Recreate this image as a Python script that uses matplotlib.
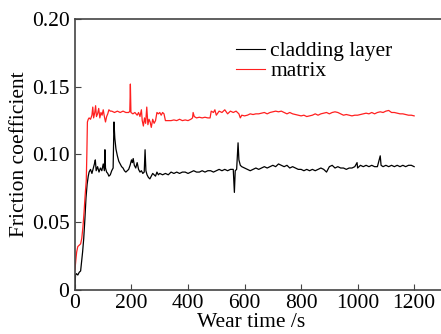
import matplotlib
matplotlib.use("Agg")
import matplotlib.pyplot as plt

# cladding layer (black)
t_clad = [0, 2, 5, 10, 15, 20, 23, 27, 31, 35, 39, 43, 47, 50, 55, 60, 65, 70, 72, 75,
          80, 85, 90, 95, 100, 104, 106, 108, 112, 116, 120, 125, 130, 135, 138, 141, 145, 150, 155, 160,
          165, 170, 175, 180, 185, 190, 195, 200, 203, 206, 210, 215, 220, 225, 230, 235, 240, 245, 248, 251,
          255, 260, 265, 270, 275, 280, 285, 290, 295, 300, 310, 320, 330, 340, 350, 360, 370, 380, 390, 400,
          410, 420, 430, 440, 450, 460, 470, 480, 490, 500, 510, 520, 530, 540, 550, 560, 564, 567, 572, 577,
          580, 585, 590, 600, 610, 620, 630, 640, 650, 660, 670, 680, 690, 700, 710, 720, 730, 740, 750, 760,
          770, 780, 790, 800, 810, 820, 830, 840, 850, 860, 870, 880, 890, 900, 910, 920, 930, 940, 950, 960,
          970, 980, 990, 998, 1000, 1010, 1020, 1030, 1040, 1050, 1060, 1070, 1080, 1083, 1090, 1100, 1110, 1120, 1130, 1140,
          1150, 1160, 1170, 1180, 1190, 1200]
mu_clad = [0.002, 0.011, 0.012, 0.011, 0.013, 0.014, 0.020, 0.028, 0.038, 0.052, 0.068, 0.078, 0.084, 0.087, 0.089, 0.086, 0.090, 0.094, 0.096, 0.088,
           0.091, 0.087, 0.090, 0.088, 0.093, 0.088, 0.1035, 0.090, 0.087, 0.086, 0.084, 0.085, 0.088, 0.090, 0.124, 0.112, 0.104, 0.099, 0.095, 0.093,
           0.091, 0.090, 0.088, 0.087, 0.088, 0.089, 0.092, 0.096, 0.094, 0.097, 0.092, 0.090, 0.094, 0.089, 0.087, 0.088, 0.086, 0.087, 0.1035, 0.088,
           0.085, 0.083, 0.082, 0.084, 0.086, 0.085, 0.084, 0.087, 0.085, 0.086, 0.085, 0.086, 0.085, 0.087, 0.086, 0.087, 0.086, 0.087, 0.087, 0.086,
           0.087, 0.088, 0.087, 0.087, 0.088, 0.087, 0.088, 0.088, 0.087, 0.088, 0.089, 0.088, 0.089, 0.088, 0.089, 0.089, 0.072, 0.088, 0.089, 0.1086,
           0.096, 0.092, 0.091, 0.090, 0.089, 0.088, 0.089, 0.090, 0.089, 0.090, 0.091, 0.090, 0.091, 0.092, 0.091, 0.093, 0.092, 0.091, 0.092, 0.090,
           0.091, 0.090, 0.089, 0.089, 0.088, 0.089, 0.088, 0.089, 0.088, 0.089, 0.090, 0.089, 0.087, 0.091, 0.092, 0.090, 0.091, 0.090, 0.090, 0.089,
           0.090, 0.090, 0.091, 0.094, 0.090, 0.092, 0.091, 0.092, 0.091, 0.092, 0.091, 0.091, 0.099, 0.092, 0.091, 0.092, 0.091, 0.092, 0.091, 0.092,
           0.091, 0.092, 0.091, 0.092, 0.092, 0.091]

# matrix (red)
t_mat = [0, 3, 6, 10, 15, 20, 24, 28, 32, 36, 40, 42, 44, 47, 50, 55, 60, 63, 66, 70,
         73, 76, 80, 84, 88, 92, 96, 100, 104, 108, 112, 116, 120, 125, 130, 140, 150, 160, 170, 180,
         190, 194, 196, 198, 205, 212, 220, 225, 230, 235, 238, 242, 246, 250, 254, 258, 262, 266, 270, 275,
         280, 285, 290, 295, 300, 305, 310, 315, 320, 330, 340, 350, 360, 370, 380, 390, 400, 410, 416, 418,
         422, 430, 440, 450, 460, 470, 478, 482, 490, 495, 500, 510, 520, 530, 540, 550, 560, 570, 580, 585,
         590, 600, 610, 620, 630, 640, 650, 660, 670, 680, 690, 700, 710, 720, 730, 740, 750, 760, 770, 780,
         790, 800, 810, 820, 830, 840, 850, 860, 870, 880, 890, 900, 910, 920, 930, 940, 950, 960, 970, 980,
         990, 1000, 1010, 1020, 1030, 1040, 1050, 1060, 1070, 1080, 1090, 1100, 1110, 1120, 1130, 1140, 1150, 1160, 1170, 1180,
         1190, 1200]
mu_mat = [0.015, 0.022, 0.028, 0.032, 0.033, 0.034, 0.038, 0.046, 0.057, 0.070, 0.081, 0.100, 0.124, 0.126, 0.127, 0.126, 0.129, 0.135, 0.127, 0.131,
          0.136, 0.128, 0.130, 0.134, 0.127, 0.131, 0.129, 0.133, 0.128, 0.124, 0.128, 0.130, 0.133, 0.132, 0.132, 0.131, 0.132, 0.131, 0.132, 0.131,
          0.131, 0.132, 0.152, 0.131, 0.130, 0.131, 0.129, 0.131, 0.128, 0.133, 0.125, 0.121, 0.127, 0.123, 0.135, 0.122, 0.126, 0.124, 0.120, 0.126,
          0.123, 0.125, 0.131, 0.130, 0.131, 0.129, 0.131, 0.130, 0.125, 0.125, 0.125, 0.1255, 0.125, 0.126, 0.125, 0.1255, 0.125, 0.126, 0.127, 0.131,
          0.128, 0.127, 0.1275, 0.127, 0.1275, 0.127, 0.127, 0.132, 0.131, 0.133, 0.129, 0.132, 0.131, 0.133, 0.130, 0.132, 0.131, 0.132, 0.130, 0.127,
          0.129, 0.1285, 0.129, 0.130, 0.1295, 0.130, 0.130, 0.1305, 0.131, 0.130, 0.131, 0.1315, 0.132, 0.1315, 0.132, 0.131, 0.130, 0.131, 0.130, 0.1295,
          0.129, 0.1285, 0.129, 0.128, 0.1285, 0.129, 0.130, 0.129, 0.130, 0.1305, 0.131, 0.130, 0.131, 0.1315, 0.131, 0.130, 0.129, 0.1295, 0.129, 0.1285,
          0.129, 0.129, 0.1295, 0.130, 0.1305, 0.130, 0.131, 0.130, 0.131, 0.1315, 0.131, 0.132, 0.1325, 0.131, 0.131, 0.1305, 0.130, 0.130, 0.1295, 0.129,
          0.129, 0.1285]

x_ticks = [0, 200, 400, 600, 800, 1000, 1200]
y_ticks = [0, 0.05, 0.10, 0.15, 0.20]
y_labels = ["0", "0.05", "0.10", "0.15", "0.20"]

plt.rcParams['font.family'] = ['Liberation Serif', 'DejaVu Serif']
plt.rcParams['font.size'] = 15.5

fig = plt.figure(figsize=(4.41, 3.34), dpi=100)
ax = fig.add_axes([0.170, 0.132, 0.830, 0.811])

ax.plot(t_clad, mu_clad, color='black', linewidth=0.9, label='cladding layer')
ax.plot(t_mat, mu_mat, color='#ff2020', linewidth=0.9, label='matrix')

ax.set_xlim(0, 1295)
ax.set_ylim(0, 0.20)
ax.set_xticks(x_ticks)
ax.set_yticks(y_ticks)
ax.set_yticklabels(y_labels)
ax.tick_params(direction='in', length=4, width=0.8, color='#444444')
ax.tick_params(axis='x', pad=3)
ax.tick_params(axis='y', pad=4)
for side in ['left', 'bottom', 'top']:
    ax.spines[side].set_color('#444444')
    ax.spines[side].set_linewidth(1.2)
ax.spines['right'].set_visible(False)

ax.set_xlabel('Wear time /s')
ax.xaxis.set_label_coords(0.481, -0.085)
ax.set_ylabel('Friction coefficient', labelpad=2)

leg = fig.legend(loc='upper left', bbox_to_anchor=(0.535, 0.877), frameon=False,
                 handlelength=1.35, handletextpad=0.25, labelspacing=0.0,
                 borderaxespad=0, borderpad=0)
for line in leg.get_lines():
    line.set_linewidth(0.8)

fig.savefig('out.png', dpi=100)
